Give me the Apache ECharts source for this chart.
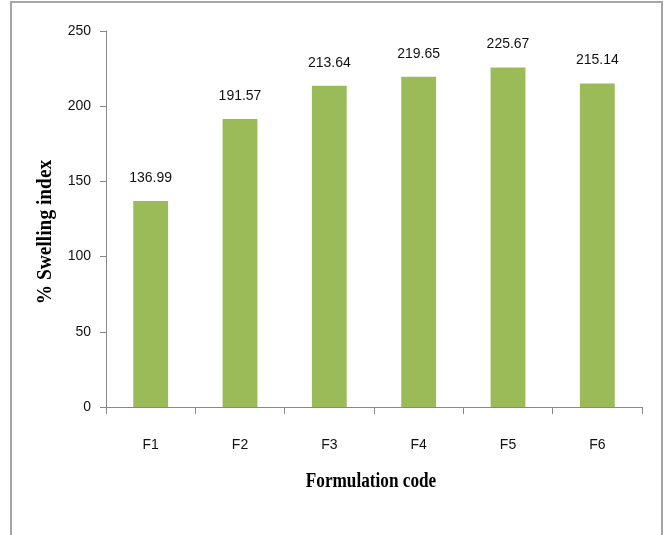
<!DOCTYPE html>
<html>
<head>
<meta charset="utf-8">
<script src="https://cdn.jsdelivr.net/npm/echarts@6/dist/echarts.min.js"></script>
<style>
html,body{margin:0;padding:0;background:#fff;}
#chart{width:667px;height:535px;}
</style>
</head>
<body>
<div id="chart"></div>
<script>
const categories = ['F1','F2','F3','F4','F5','F6'];
const swellingIndex = [136.99, 191.57, 213.64, 219.65, 225.67, 215.14];
const yTicks = [0, 50, 100, 150, 200, 250];
const xTitle = 'Formulation code';
const yTitle = '% Swelling index';

const chart = echarts.init(document.getElementById('chart'), null, {renderer:'canvas'});
const sans = '"Liberation Sans", Arial, sans-serif';
const serif = '"Liberation Serif", "Times New Roman", serif';
chart.setOption({
  animation:false,
  backgroundColor:'#fff',
  graphic:[{
    type:'rect', silent:true,
    shape:{x:11, y:2, width:651, height:560},
    style:{fill:'none', stroke:'#a6a6a6', lineWidth:2}
  },{
    type:'text', silent:true, x:371, y:482, scaleX:0.86,
    style:{text:xTitle, font:'bold 20px ' + serif, fill:'#000', align:'center', verticalAlign:'middle'}
  },{
    type:'text', silent:true, x:46, y:232, rotation:Math.PI/2, scaleX:0.97,
    style:{text:yTitle, font:'bold 20px ' + serif, fill:'#000', align:'center', verticalAlign:'middle'}
  }],
  grid:{left:106, top:31, width:536, height:376, containLabel:false},
  xAxis:{
    type:'category', data:categories,
    axisLine:{lineStyle:{color:'#888', width:1}},
    axisTick:{show:true, length:7, lineStyle:{color:'#888'}},
    axisLabel:{color:'#111', fontFamily:sans, fontSize:14, margin:31}
  },
  yAxis:{
    type:'value', min:yTicks[0], max:yTicks[yTicks.length-1], interval:50,
    splitLine:{show:false},
    axisLine:{show:true, lineStyle:{color:'#888', width:1}},
    axisTick:{show:true, length:6, lineStyle:{color:'#888'}},
    axisLabel:{color:'#111', fontFamily:sans, fontSize:14, margin:15}
  },
  series:[{
    type:'bar', data:swellingIndex, barWidth:'39%',
    itemStyle:{color:'#9bbb59'},
    label:{show:true, position:'top', distance:16, color:'#111', fontFamily:sans, fontSize:14,
      formatter:p=>p.value.toFixed(2)}
  }]
});
</script>
</body>
</html>
